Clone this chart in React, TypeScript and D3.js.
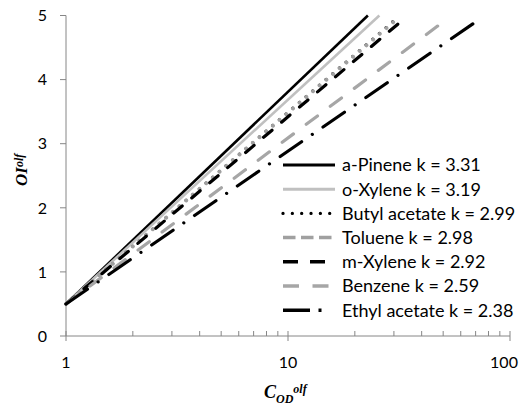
import React from "react";
import * as d3 from "d3";

const names = ["a-Pinene", "o-Xylene", "Butyl acetate", "Toluene", "m-Xylene", "Benzene", "Ethyl acetate"];
const kValues = [3.31, 3.19, 2.99, 2.98, 2.92, 2.59, 2.38];
const startC = [1, 1, 1, 1, 1, 1, 1];
const startOI = [0.5, 0.5, 0.5, 0.5, 0.5, 0.5, 0.5];
const endC = [22.9, 25.8, 31.2, 31.3, 34.2, 50, 68];
const endOI = [5.0, 5.0, 4.97, 4.96, 4.98, 4.9, 4.87];
const yTicks = [0, 1, 2, 3, 4, 5];
const xMajor = [1, 10, 100];
const xMinor = [2, 3, 4, 5, 6, 7, 8, 9, 20, 30, 40, 50, 60, 70, 80, 90];

type Style = { color: string; width: number; dash: string; cap: "butt" | "round"; legDash: string; legCap: "butt" | "round"; legWidth: number };
const styles: Style[] = [
  { color: "#000000", width: 2.6, dash: "", cap: "butt", legDash: "", legCap: "butt", legWidth: 3 },
  { color: "#c0c0c0", width: 2.6, dash: "", cap: "butt", legDash: "", legCap: "butt", legWidth: 3 },
  { color: "#000000", width: 3, dash: "0.01 8.8", cap: "round", legDash: "0.01 9.33", legCap: "round", legWidth: 3.3 },
  { color: "#a0a0a0", width: 4, dash: "0.01 8.8", cap: "round", legDash: "12.5 5.5", legCap: "butt", legWidth: 3.5 },
  { color: "#000000", width: 3.2, dash: "11 12.5", cap: "round", legDash: "15 12", legCap: "butt", legWidth: 3.5 },
  { color: "#a6a6a6", width: 3.2, dash: "14 16", cap: "round", legDash: "16 13.5", legCap: "butt", legWidth: 3.5 },
  { color: "#000000", width: 3.2, dash: "26 13 0.01 13", cap: "round", legDash: "27 8.5 3 30", legCap: "butt", legWidth: 3.5 },
];

const W = 526;
const H = 407;
const axisColor = "#868686";
const sans = "Lato, 'Open Sans', sans-serif";
const serif = "'Liberation Serif', 'Times New Roman', serif";

export default function App() {
  const x = d3.scaleLog().domain([1, 100]).range([66, 510]);
  const y = d3.scaleLinear().domain([0, 5]).range([336, 15.5]);
  const line = d3
    .line<[number, number]>()
    .x((d) => x(d[0]))
    .y((d) => y(d[1]));

  const legX0 = 283;
  const legX1 = 335;
  const legY0 = 165;
  const legStep = 24.2;

  return (
    <svg
      width={W}
      height={H}
      style={{ position: "absolute", left: 0, top: 0, background: "#fff" }}
    >
      <rect x={0} y={0} width={W} height={H} fill="#fff" />
      {/* axes */}
      <line x1={x(1)} x2={x(1)} y1={y(5)} y2={y(0)} stroke={axisColor} strokeWidth={1} />
      <line x1={x(1)} x2={x(100)} y1={y(0)} y2={y(0)} stroke={axisColor} strokeWidth={1} />
      {yTicks.map((t) => (
        <g key={"yt" + t}>
          <line x1={x(1) - 6} x2={x(1)} y1={y(t)} y2={y(t)} stroke={axisColor} strokeWidth={1} />
          <text x={47} y={y(t)} dy="0.36em" textAnchor="end" fontFamily={sans} fontSize={16} fill="#000">
            {t}
          </text>
        </g>
      ))}
      {xMajor.map((t, i) => (
        <g key={"xt" + t}>
          <line x1={x(t)} x2={x(t)} y1={y(0) - 5} y2={y(0) + 5} stroke={axisColor} strokeWidth={1} />
          <text
            x={i === xMajor.length - 1 ? x(t) - 6 : x(t)}
            y={368}
            textAnchor="middle"
            fontFamily={sans}
            fontSize={16}
            fill="#000"
          >
            {t}
          </text>
        </g>
      ))}
      {xMinor.map((t) => (
        <line key={"xm" + t} x1={x(t)} x2={x(t)} y1={y(0) - 5} y2={y(0)} stroke={axisColor} strokeWidth={1} />
      ))}

      {/* series */}
      {names.map((n, i) => {
        const s = styles[i];
        const pts: [number, number][] = [
          [startC[i], startOI[i]],
          [endC[i], endOI[i]],
        ];
        return (
          <path
            key={"s" + n}
            d={line(pts) || ""}
            fill="none"
            stroke={s.color}
            strokeWidth={s.width}
            strokeDasharray={s.dash || undefined}
            strokeLinecap={s.cap}
          />
        );
      })}

      {/* legend */}
      {names.map((n, i) => {
        const s = styles[i];
        const yy = legY0 + i * legStep;
        return (
          <g key={"l" + n}>
            <line
              x1={legX0}
              x2={legX1}
              y1={yy}
              y2={yy}
              stroke={s.color}
              strokeWidth={s.legWidth}
              strokeDasharray={s.legDash || undefined}
              strokeLinecap={s.legCap}
            />
            <text x={342} y={yy} dy="0.36em" fontFamily={sans} fontSize={18} fill="#000">
              {n} k = {kValues[i].toFixed(2)}
            </text>
          </g>
        );
      })}

      {/* axis titles */}
      <text x={264} y={398} fontFamily={serif} fontWeight="bold" fontStyle="italic" fontSize={18} fill="#000">
        C
        <tspan fontSize={12} dy={5}>OD</tspan>
        <tspan fontSize={12} dy={-10}>olf</tspan>
      </text>
      <text
        transform="translate(27,186) rotate(-90)"
        fontFamily={serif}
        fontWeight="bold"
        fontStyle="italic"
        fontSize={17}
        fill="#000"
      >
        OI
        <tspan fontSize={12} dy={-4}>olf</tspan>
      </text>
    </svg>
  );
}
